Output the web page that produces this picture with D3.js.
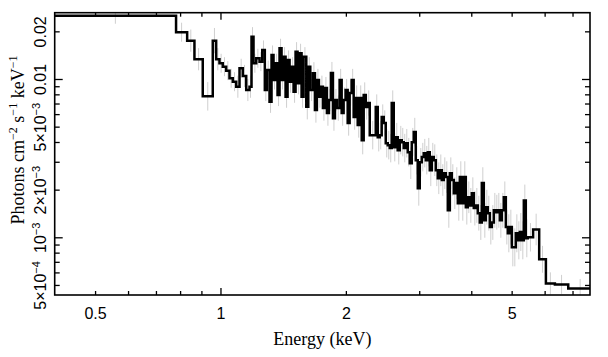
<!DOCTYPE html>
<html><head><meta charset="utf-8">
<script src="https://cdn.jsdelivr.net/npm/d3@7"></script>
<style>body{margin:0;background:#fff}svg{display:block}</style>
</head><body>
<svg id="c" width="608" height="357"></svg>
<script>
// Bin edges (keV) of the binned spectrum
const binEdges = [
0.40,0.7823,0.8318,0.8660,0.9067,0.9583,0.9765,0.9945,1.0128,1.0320,1.0511,
1.0705,1.0908,1.1110,1.1314,1.1529,1.1741,1.1872,1.2004,1.2185,1.2409,
1.2596,1.2778,1.2920,1.3115,1.3261,1.3408,1.3557,1.3709,1.3861,1.4016,
1.4171,1.4331,1.4490,1.4651,1.4814,1.4979,1.5145,1.5313,1.5484,1.5656,
1.5830,1.6069,1.6248,1.6428,1.6669,1.6854,1.7041,1.7231,1.7422,1.7616,
1.7812,1.8010,1.8210,1.8412,1.8621,1.8828,1.9037,1.932,
1.954,1.975,1.997,2.020,2.042,2.065,2.088,2.111,2.135,2.159,2.183,2.207,2.232,2.256,2.282,
2.359,2.385,2.412,2.438,2.466,2.493,2.521,2.549,2.577,2.606,2.635,2.664,2.694,2.724,2.754,
2.785,2.816,2.847,2.879,2.911,2.943,2.976,3.009,3.043,3.076,3.111,3.145,3.180,3.216,3.251,
3.288,3.324,3.361,3.399,3.436,3.475,3.513,3.553,3.592,3.632,3.672,3.713,3.754,3.796,3.838,
3.881,3.924,3.968,4.012,4.057,4.102,4.147,4.193,4.240,4.287,4.335,4.383,4.432,4.481,4.531,
4.581,4.632,4.684,4.736,4.788,4.842,4.895,4.950,5.005,5.060,5.117,5.174,5.231,5.289,5.348,
5.407,5.467,5.630,5.822,6.042,6.350,6.836,7.80
];
// Flux per bin (photons cm^-2 s^-1 keV^-1)
const flux = [
0.02505,0.01975,0.01747,0.01333,0.00777,0.01747,0.01333,0.01257,0.01196,0.01129,
0.01010,0.00961,0.00894,0.01169,0.01045,0.00852,0.00894,0.01852,0.01257,0.01352,
0.01287,0.01526,0.00852,0.01140,0.00718,0.01419,0.00986,0.01257,0.00792,0.01564,
0.00986,0.01384,0.00773,0.01319,0.00961,0.01196,0.00831,0.01489,0.00939,0.01454,
0.00773,0.01384,0.00668,0.01196,0.00852,0.01087,0.00637,0.00986,0.00773,0.00894,
0.00655,0.00877,0.00609,0.00736,0.01091,0.00566,0.00736,0.00655,0.00986,0.00609,
0.00736,0.00852,0.00527,0.00816,0.00986,0.00575,0.00758,0.00512,0.00758,0.00411,
0.00792,0.00665,0.00705,0.00442,0.00665,0.00429,0.00442,0.00575,0.00527,0.00393,
0.00382,0.00366,0.00705,0.00371,0.00429,0.00355,0.00411,0.00399,0.00366,0.00393,
0.00345,0.00294,0.00399,0.00462,0.00307,0.00204,0.00298,0.00321,0.00340,0.00307,
0.00345,0.00265,0.00321,0.00307,0.00265,0.00236,0.00265,0.00230,0.00254,0.00240,
0.00148,0.00254,0.00230,0.00190,0.00220,0.00164,0.00240,0.00164,0.00240,0.00155,
0.00179,0.00159,0.00190,0.00153,0.00159,0.00142,0.00124,0.00220,0.00128,0.00155,
0.00142,0.00116,0.00124,0.00148,0.00144,0.00148,0.00128,0.00148,0.00179,0.00116,
0.00106,0.00116,0.000864,0.000864,0.00106,0.000957,0.00108,0.000957,0.00171,0.000986,
0.00100,0.00112,0.000726,0.000511,0.000504,0.000475
];
// Half-length of each error bar, in decades
const errDex = [
0.05,0.06,0.07,0.07,0.09,0.08,0.07,0.06,0.06,0.06,
0.06,0.06,0.07,0.06,0.07,0.07,0.07,0.06,0.06,0.06,
0.06,0.06,0.07,0.06,0.07,0.06,0.06,0.06,0.07,0.06,
0.06,0.06,0.07,0.06,0.07,0.06,0.07,0.06,0.07,0.06,
0.07,0.06,0.08,0.06,0.07,0.07,0.08,0.07,0.07,0.07,
0.08,0.07,0.08,0.07,0.07,0.08,0.07,0.08,0.07,0.08,
0.08,0.07,0.08,0.08,0.07,0.08,0.08,0.08,0.08,0.09,
0.08,0.08,0.08,0.09,0.08,0.09,0.09,0.08,0.08,0.09,
0.09,0.09,0.08,0.09,0.09,0.09,0.09,0.09,0.09,0.09,
0.09,0.10,0.09,0.09,0.09,0.11,0.09,0.09,0.09,0.09,
0.09,0.10,0.09,0.10,0.10,0.10,0.10,0.10,0.10,0.10,
0.11,0.10,0.10,0.10,0.10,0.11,0.10,0.11,0.10,0.11,
0.10,0.11,0.10,0.11,0.11,0.11,0.11,0.10,0.11,0.11,
0.11,0.11,0.11,0.11,0.11,0.11,0.11,0.11,0.10,0.11,
0.12,0.11,0.12,0.12,0.12,0.12,0.12,0.12,0.10,0.12,
0.09,0.10,0.085,0.07,0.06,0.06
];
const xDomain = [0.4, 7.71];
const yDomain = [4.32e-4, 0.02623];
const xMinorTicks = [0.5,0.6,0.7,0.8,0.9,2,3,4,5,6,7];
const xMajorTicks = [1];
const xLabelTicks = [0.5,1,2,5];
const yMinorTicks = [5e-4,6e-4,7e-4,8e-4,9e-4,2e-3,3e-3,4e-3,5e-3,6e-3,7e-3,8e-3,9e-3,0.02];
const yMajorTicks = [1e-3,1e-2];
const yLabelTicks = [0.02,0.01,5e-3,2e-3,1e-3,5e-4];
const yLabelParts = [["0.02",""],["0.01",""],["5\u00d710","\u22123"],["2\u00d710","\u22123"],["10","\u22123"],["5\u00d710","\u22124"]];

const L=54.7, R=590, T=12.7, B=295;
const svg = d3.select("#c");
const x = d3.scaleLog().domain(xDomain).range([L,R]);
const y = d3.scaleLog().domain(yDomain).range([B,T]);

svg.append("defs").append("clipPath").attr("id","clip")
  .append("rect").attr("x",L).attr("y",T).attr("width",R-L).attr("height",B-T);

const plot = svg.append("g").attr("clip-path","url(#clip)");
// error bars
const bins = flux.map((f,i)=>({e0:binEdges[i], e1:binEdges[i+1], f, err:errDex[i]}));
plot.selectAll("line.err").data(bins).enter().append("line")
  .attr("class","err")
  .attr("x1",d=>x(Math.sqrt(d.e0*d.e1))).attr("x2",d=>x(Math.sqrt(d.e0*d.e1)))
  .attr("y1",d=>y(d.f*Math.pow(10,d.err))).attr("y2",d=>y(d.f/Math.pow(10,d.err)))
  .attr("stroke","#cfcfcf").attr("stroke-width",1);

// step histogram
const pts = bins.map(d=>[d.e0,d.f]);
pts.push([binEdges[binEdges.length-1], flux[flux.length-1]]);
const line = d3.line().x(d=>x(d[0])).y(d=>y(d[1])).curve(d3.curveStepAfter);
plot.append("path").attr("d",line(pts)).attr("fill","none")
  .attr("stroke","#000").attr("stroke-width",2.5).attr("stroke-linejoin","miter");

// axes ticks
function styleAxis(g){ g.select(".domain").remove(); g.selectAll(".tick line").attr("stroke","#000").attr("stroke-width",1.3); }
svg.append("g").attr("transform",`translate(0,${B})`).call(d3.axisBottom(x).tickValues(xMinorTicks).tickSizeInner(-4).tickSizeOuter(0).tickFormat("")).call(styleAxis);
svg.append("g").attr("transform",`translate(0,${B})`).call(d3.axisBottom(x).tickValues(xMajorTicks).tickSizeInner(-7).tickSizeOuter(0).tickFormat("")).call(styleAxis);
svg.append("g").attr("transform",`translate(0,${T})`).call(d3.axisTop(x).tickValues(xMinorTicks).tickSizeInner(-4).tickSizeOuter(0).tickFormat("")).call(styleAxis);
svg.append("g").attr("transform",`translate(0,${T})`).call(d3.axisTop(x).tickValues(xMajorTicks).tickSizeInner(-7).tickSizeOuter(0).tickFormat("")).call(styleAxis);
svg.append("g").attr("transform",`translate(${L},0)`).call(d3.axisLeft(y).tickValues(yMinorTicks).tickSizeInner(-5).tickSizeOuter(0).tickFormat("")).call(styleAxis);
svg.append("g").attr("transform",`translate(${L},0)`).call(d3.axisLeft(y).tickValues(yMajorTicks).tickSizeInner(-8).tickSizeOuter(0).tickFormat("")).call(styleAxis);
svg.append("g").attr("transform",`translate(${R},0)`).call(d3.axisRight(y).tickValues(yMinorTicks).tickSizeInner(-5).tickSizeOuter(0).tickFormat("")).call(styleAxis);
svg.append("g").attr("transform",`translate(${R},0)`).call(d3.axisRight(y).tickValues(yMajorTicks).tickSizeInner(-8).tickSizeOuter(0).tickFormat("")).call(styleAxis);

// x tick labels
const xl = svg.append("g").attr("transform",`translate(0,${B})`)
  .call(d3.axisBottom(x).tickValues(xLabelTicks).tickSize(0).tickPadding(12.8).tickFormat(d=>String(d)));
xl.select(".domain").remove();
xl.selectAll("text").attr("font-family","'Liberation Sans',Arial,sans-serif").attr("font-size",16).attr("fill","#000");

// y tick labels (rotated)
const yl = svg.append("g").attr("transform",`translate(${L},0)`)
  .call(d3.axisLeft(y).tickValues(yLabelTicks).tickSize(0).tickFormat(""));
yl.select(".domain").remove();
yl.selectAll(".tick").each(function(d,i){
  const parts = yLabelParts[i];
  const t = d3.select(this).append("text")
    .attr("transform","translate(-9,0) rotate(-90)")
    .attr("text-anchor","middle").attr("fill","#000")
    .attr("font-family","'Liberation Sans',Arial,sans-serif").attr("font-size",16);
  t.append("tspan").text(parts[0]);
  if(parts[1]) t.append("tspan").attr("font-size",11).attr("dy",-6).text(parts[1]);
});

// frame
svg.append("rect").attr("x",L).attr("y",T).attr("width",R-L).attr("height",B-T)
  .attr("fill","none").attr("stroke","#000").attr("stroke-width",1.6);

// axis titles
svg.append("text").attr("x",(L+R)/2).attr("y",345).attr("text-anchor","middle")
  .attr("font-family","'Liberation Serif','Times New Roman',serif").attr("font-size",18).attr("fill","#000")
  .text("Energy (keV)");
const yt = svg.append("text").attr("transform","translate(24,140) rotate(-90)").attr("text-anchor","middle")
  .attr("font-family","'Liberation Serif','Times New Roman',serif").attr("font-size",18).attr("fill","#000");
yt.append("tspan").text("Photons cm");
yt.append("tspan").attr("font-size",12).attr("dy",-7).text("\u22122");
yt.append("tspan").attr("dy",7).text(" s");
yt.append("tspan").attr("font-size",12).attr("dy",-7).text("\u22121");
yt.append("tspan").attr("dy",7).text(" keV");
yt.append("tspan").attr("font-size",12).attr("dy",-7).text("\u22121");
</script>
</body></html>
